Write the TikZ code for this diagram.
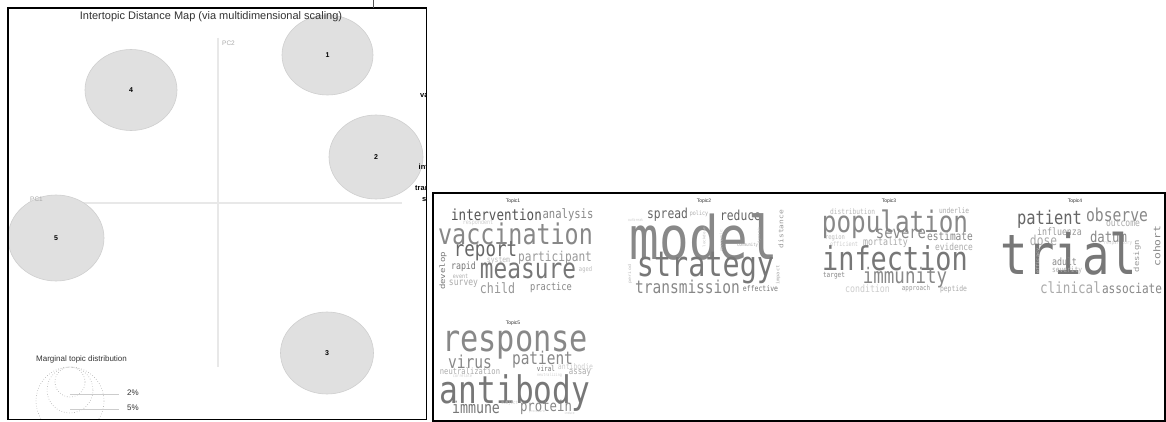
\documentclass[tikz,border=0pt]{standalone}
\usepackage{fontspec}
\setmainfont{Liberation Sans}
\newfontfamily\wcfont{DejaVu Sans Mono}
\usepackage{graphicx}
\usetikzlibrary{shapes.geometric}
\definecolor{g3}{HTML}{333333}
\definecolor{g5}{HTML}{555555}
\definecolor{g6}{HTML}{666666}
\definecolor{g7}{HTML}{777777}
\definecolor{g8}{HTML}{888888}
\definecolor{g9}{HTML}{999999}
\definecolor{ga}{HTML}{AAAAAA}
\definecolor{gb}{HTML}{BBBBBB}
\definecolor{gc}{HTML}{CCCCCC}
\definecolor{cfill}{HTML}{E0E0E0}
\definecolor{cline}{HTML}{CFCFCF}
\definecolor{axis}{HTML}{E8E8E8}
\newcommand\wch[3]{\scalebox{0.82}[1]{\wcfont\fontsize{#1}{#1}\selectfont\color{#2}#3}}
\newcommand\wcv[3]{\scalebox{0.82}[1]{\rotatebox{90}{\wcfont\fontsize{#1}{#1}\selectfont\color{#2}#3}}}
\tikzset{
  wc/.style={inner sep=0pt, outer sep=0pt},
  topiccirc/.style={ellipse, fill=cfill, draw=cline, line width=0.6pt, inner sep=0pt,
    font=\fontsize{7}{7}\selectfont\bfseries},
  frame/.style={draw=black, line width=1.8pt},
  axisline/.style={draw=axis, line width=1.4pt},
  axislabel/.style={inner sep=0pt, text=ga, font=\fontsize{6.5}{6.5}\selectfont},
  legcirc/.style={draw=ga, dotted, line width=0.6pt},
  legline/.style={draw=gc, line width=0.6pt},
  legtext/.style={inner sep=0pt, text=g3, font=\fontsize{8}{8}\selectfont},
  cliplabel/.style={inner sep=0pt, anchor=west, text=black, font=\fontsize{7.5}{7.5}\selectfont\bfseries},
  topictitle/.style={inner sep=0pt, text=g3, font=\fontsize{5}{5}\selectfont},
}
\begin{document}
\begin{tikzpicture}[x=1pt, y=-1pt]
\useasboundingbox (0,0) rectangle (1166,422);
\fill[white] (0,0) rectangle (1166,422);

% ---------------- left panel ----------------
\begin{scope}
\clip (8,8) rectangle (426,419.5);
\draw[axisline] (28,203) -- (402,203);
\draw[axisline] (218,38) -- (218,367);
\node[topiccirc, minimum width=91pt, minimum height=80pt] (c1) at (327.5,55) {1};
\node[topiccirc, minimum width=94pt, minimum height=84pt] (c2) at (376,157) {2};
\node[topiccirc, minimum width=93pt, minimum height=82pt] (c3) at (327,353) {3};
\node[topiccirc, minimum width=92pt, minimum height=81pt] (c4) at (131,90) {4};
\node[topiccirc, minimum width=96pt, minimum height=86pt] (c5) at (56,238) {5};
\node[axislabel, anchor=west] (pc1) at (30,199) {PC1};
\node[axislabel, anchor=west] (pc2) at (222,43) {PC2};
% legend
\node[legtext, anchor=west] (legt) at (36,359) {Marginal topic distribution};
\draw[legcirc] (70,382) circle[radius=15];
\draw[legcirc] (70,390) circle[radius=23];
\draw[legcirc] (70,401) circle[radius=34];
\coordinate (l2a) at (70,394);
\coordinate (l5a) at (70,409);
\node[legtext, anchor=west] (l2) at (127,393) {2\%};
\node[legtext, anchor=west] (l5) at (127,407.5) {5\%};
\draw[legline] (l2a) -- (119,394);
\draw[legline] (l5a) -- (119,409);
% clipped labels at right edge
\node[cliplabel] (cl1) at (420,95) {vaccination};
\node[cliplabel] (cl2) at (418.5,167) {infection};
\node[cliplabel] (cl3) at (415,188) {transmission};
\node[cliplabel] (cl4) at (422,200) {strategy};
\end{scope}
\node[inner sep=0pt, text=g3, font=\fontsize{11}{11}\selectfont] (title) at (211,17)
  {Intertopic Distance Map (via multidimensional scaling)};
\draw[frame] (8,8) rectangle (426.5,419.5);
\draw[g5, line width=0.5pt] (373,0) -- (373,8);

% ---------------- right panel ----------------
\draw[frame] (433,193) rectangle (1165,421);

% Topic 1
\node[topictitle] (t1) at (513,201) {Topic1};
\node[wc] (w1a) at (496.5,215) {\wch{15.3}{g5}{intervention}};
\node[wc] (w1b) at (568,214.5) {\wch{12.9}{g8}{analysis}};
\node[wc] (w1c) at (478,223) {\wch{6.1}{gc}{respondent}};
\node[wc] (w1d) at (515.5,234) {\wch{28.5}{g8}{vaccination}};
\node[wc] (w1e) at (485.5,251) {\wch{21.3}{g6}{report}};
\node[wc] (w1f) at (555,258) {\wch{13.6}{g9}{participant}};
\node[wc] (w1g) at (498.5,261) {\wch{7.8}{gb}{system}};
\node[wc] (w1h) at (443,271) {\wcv{9}{g7}{develop}};
\node[wc] (w1i) at (463.5,267) {\wch{10.1}{g7}{rapid}};
\node[wc] (w1j) at (528,271) {\wch{27.8}{g7}{measure}};
\node[wc] (w1k) at (585.5,270) {\wch{6.6}{gb}{aged}};
\node[wc] (w1l) at (460.5,276) {\wch{6.1}{ga}{event}};
\node[wc] (w1m) at (463.5,284) {\wch{9.8}{ga}{survey}};
\node[wc] (w1n) at (497.5,288) {\wch{14.2}{g9}{child}};
\node[wc] (w1o) at (551,288) {\wch{10.6}{g8}{practice}};

% Topic 2
\node[topictitle] (t2) at (704,201) {Topic2};
\node[wc] (w2a) at (635.5,220) {\wch{3.8}{gc}{outbreak}};
\node[wc] (w2b) at (667.5,215) {\wch{13.8}{g6}{spread}};
\node[wc] (w2c) at (699,214) {\wch{6.1}{ga}{policy}};
\node[wc] (w2d) at (740.5,215) {\wch{13.8}{g6}{reduce}};
\node[wc] (w2e) at (704,237) {\wch{60}{g8}{model}};
\node[wc] (w2f) at (781,229) {\wcv{7.9}{g9}{distance}};
\node[wc] (w2g) at (704,237) {\wcv{4.2}{gb}{lockdown}};
\node[wc] (w2h) at (721,241) {\wcv{4.5}{gc}{economic}};
\node[wc] (w2i) at (759,235) {\wcv{3.8}{gb}{dynamic}};
\node[wc] (w2j) at (747.5,245) {\wch{4.7}{ga}{community}};
\node[wc] (w2k) at (705.5,268) {\wch{34.7}{g7}{strategy}};
\node[wc] (w2l) at (630,274) {\wcv{5}{gb}{period}};
\node[wc] (w2m) at (778,275) {\wcv{5.5}{ga}{impact}};
\node[wc] (w2n) at (687.5,287) {\wch{17.7}{g8}{transmission}};
\node[wc] (w2o) at (760.5,289) {\wch{7.9}{g7}{effective}};

% Topic 3
\node[topictitle] (t3) at (889,201) {Topic3};
\node[wc] (w3a) at (852.5,212) {\wch{7.6}{gb}{distribution}};
\node[wc] (w3b) at (954,211) {\wch{7.6}{ga}{underlie}};
\node[wc] (w3c) at (895,224) {\wch{29.6}{g8}{population}};
\node[wc] (w3d) at (835,238) {\wch{6.7}{gb}{region}};
\node[wc] (w3e) at (901,234) {\wch{16.9}{g8}{severe}};
\node[wc] (w3f) at (950,236) {\wch{11.6}{g8}{estimate}};
\node[wc] (w3g) at (844,244) {\wch{6.3}{gc}{efficient}};
\node[wc] (w3h) at (885.5,243) {\wch{10.1}{ga}{mortality}};
\node[wc] (w3i) at (954,247) {\wch{9.6}{ga}{evidence}};
\node[wc] (w3j) at (895,258) {\wch{32.8}{g7}{infection}};
\node[wc] (w3k) at (834,276) {\wch{7.4}{g8}{target}};
\node[wc] (w3l) at (905,278) {\wch{21.3}{g8}{immunity}};
\node[wc] (w3m) at (867.5,289) {\wch{10.1}{gc}{condition}};
\node[wc] (w3n) at (916,289) {\wch{7.1}{g9}{approach}};
\node[wc] (w3o) at (953.5,289) {\wch{7.8}{ga}{peptide}};

% Topic 4
\node[topictitle] (t4) at (1075,201) {Topic4};
\node[wc] (w4a) at (1049.5,219) {\wch{18.8}{g6}{patient}};
\node[wc] (w4b) at (1117,215) {\wch{17.9}{g8}{observe}};
\node[wc] (w4c) at (1123,223) {\wch{9.8}{ga}{outcome}};
\node[wc] (w4d) at (1059.5,232) {\wch{10.1}{g9}{influenza}};
\node[wc] (w4e) at (1043.5,240) {\wch{13.7}{ga}{dose}};
\node[wc] (w4f) at (1108.5,237) {\wch{15}{g8}{datum}};
\node[wc] (w4g) at (1118,243) {\wch{5.2}{gc}{respiratory}};
\node[wc] (w4h) at (1157,246) {\wcv{11.3}{g8}{cohort}};
\node[wc] (w4i) at (1137,256) {\wcv{8.9}{g9}{design}};
\node[wc] (w4j) at (1068.5,254) {\wch{55.5}{g7}{trial}};
\node[wc] (w4k) at (1038,261) {\wcv{5.2}{gb}{efficacy}};
\node[wc] (w4l) at (1064.5,262) {\wch{10.1}{g8}{adult}};
\node[wc] (w4m) at (1067,270) {\wch{7.6}{ga}{severity}};
\node[wc] (w4n) at (1070.5,288) {\wch{15.4}{ga}{clinical}};
\node[wc] (w4o) at (1132,288) {\wch{13.5}{g8}{associate}};

% Topic 5
\node[topictitle] (t5) at (513,323) {Topic5};
\node[wc] (w5a) at (515,345) {\wch{36.9}{g8}{response}};
\node[wc] (w5b) at (470,362) {\wch{17.8}{g8}{virus}};
\node[wc] (w5c) at (542.5,360) {\wch{17.6}{g8}{patient}};
\node[wc] (w5d) at (470,371) {\wch{8.7}{ga}{neutralization}};
\node[wc] (w5e) at (462.5,376) {\wch{4.3}{gc}{correlate}};
\node[wc] (w5f) at (546,369) {\wch{7.3}{g7}{viral}};
\node[wc] (w5g) at (575.5,367) {\wch{7.9}{gc}{antibodie}};
\node[wc] (w5h) at (549.5,375) {\wch{4.2}{gc}{neutralizing}};
\node[wc] (w5i) at (580,373) {\wch{9}{ga}{assay}};
\node[wc] (w5j) at (515,393) {\wch{38}{g7}{antibody}};
\node[wc] (w5k) at (476,407) {\wch{16.2}{g7}{immune}};
\node[wc] (w5l) at (509.5,403) {\wch{4.9}{gc}{subject}};
\node[wc] (w5m) at (546,407) {\wch{15}{g8}{protein}};
\node[wc] (w5n) at (537,412) {\wch{3.5}{gc}{procedure}};
\node[wc] (w5o) at (569.5,413) {\wch{3.5}{gc}{induce}};
\end{tikzpicture}
\end{document}
